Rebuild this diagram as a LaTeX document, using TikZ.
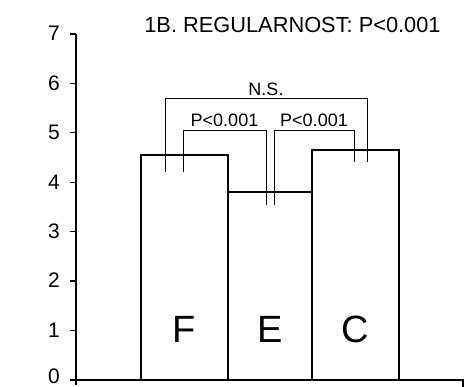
\documentclass[tikz,border=0pt]{standalone}
\usepackage{fontspec}
\setmainfont{Liberation Sans}
\begin{document}
\begin{tikzpicture}[x=1pt,y=-1pt,
  axisline/.style={line width=1.3pt,black},
  barbox/.style={line width=2.3pt,black,line join=miter},
  brk/.style={line width=1pt,black},
  ticklbl/.style={font=\fontsize{21}{23}\selectfont,anchor=base east,inner sep=0pt},
  plbl/.style={font=\fontsize{18}{20}\selectfont,anchor=base,inner sep=0pt},
  barlbl/.style={font=\fontsize{38}{40}\selectfont,anchor=base,inner sep=0pt},
  ttl/.style={font=\fontsize{21.8}{24}\selectfont,anchor=base,inner sep=0pt}]
\useasboundingbox (0,0) rectangle (464,387);
% axes
\coordinate (yt) at (76,34);
\coordinate (yb) at (76,385);
\coordinate (xl) at (76,380);
\coordinate (xr) at (463,380);
\coordinate (xrt) at (463,387);
\draw[axisline] (yt) -- (yb);
\draw[axisline] (xl) -- (xr) -- (xrt);
\foreach \v in {0,...,7}{
  \pgfmathsetmacro{\yy}{380-49.43*\v}
  \draw[axisline] (70,\yy) -- (76,\yy);
}
\node[ticklbl] (t0) at (60,384) {0};
\foreach \v in {1,...,7}{
  \pgfmathsetmacro{\yy}{380-49.43*\v}
  \node[ticklbl] (t\v) at (60,\yy+6.8) {\v};
}
% bars
\draw[barbox] (141,380) rectangle (228,155);
\draw[barbox] (228,380) rectangle (312,192);
\draw[barbox] (312,380) rectangle (399,150);
\node[barlbl] (F) at (184.5,342.5) {F};
\node[barlbl] (E) at (270,342.5) {E};
\node[barlbl] (C) at (355.5,342.5) {C};
% brackets
\draw[brk] (165,172) -- (165,99) -- (367,99) -- (367,162);
\draw[brk] (183,172) -- (183,131) -- (266,131) -- (266,205);
\draw[brk] (274,205) -- (274,131) -- (354,131) -- (354,162);
\node[plbl] (ns) at (266,95.5) {N.S.};
\node[plbl] (p1) at (224.5,127) {P<0.001};
\node[plbl] (p2) at (314,127) {P<0.001};
% title
\node[ttl] (title) at (292.5,33) {1B. REGULARNOST: P<0.001};
\end{tikzpicture}
\end{document}
